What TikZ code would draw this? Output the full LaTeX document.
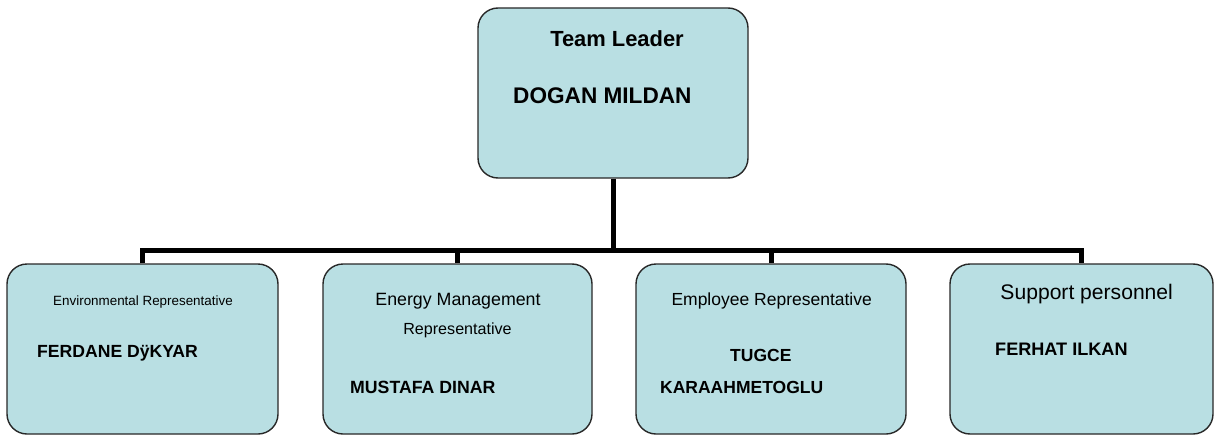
\documentclass[tikz,border=0pt]{standalone}
\usepackage{fontspec}
\setmainfont{Liberation Sans}
\usetikzlibrary{positioning}
\definecolor{boxfill}{RGB}{185,223,227}
\definecolor{boxline}{RGB}{40,40,40}
\tikzset{
    unit/.style ={rectangle, rounded corners=20pt, draw=boxline, line width=1.4pt, fill=boxfill, minimum width=270pt, minimum height=170pt},
    conn/.style ={line width=5pt, black, line join=miter},
    txt/.style = {inner sep=0pt, anchor=base}
}
\begin{document}
\begin{tikzpicture}[x=1pt,y=-1pt]
\useasboundingbox (0,0) rectangle (1215,436);
% boxes
\node [unit] (leader) at (613,93) {};
\node [unit, minimum width=271pt] (env) at (142.5,349) {};
\node [unit, minimum width=269pt] (energy) at (457.5,349) {};
\node [unit] (employee) at (771,349) {};
\node [unit, minimum width=263pt] (support) at (1081.5,349) {};
% connectors
\coordinate (bus) at (0,250);
\draw [conn] (leader.south) -- (leader.south |- bus);
\draw [conn] (env.north) -- (env.north |- bus) -- (support.north |- bus) -- (support.north);
\foreach \b in {energy, employee}
\draw [conn] (\b.north) -- (\b.north |- bus);
% texts
\node [txt, font=\bfseries\fontsize{21.9}{26}\selectfont] (leaderrole) at (617,47) {Team Leader};
\node [txt, anchor=base west, font=\bfseries\fontsize{22.6}{26}\selectfont] (leadername) at (513,103) {DOGAN MILDAN};
\node [txt, font=\fontsize{13.4}{16}\selectfont] (envrole) at (143,305) {Environmental Representative};
\node [txt, anchor=base west, font=\bfseries\fontsize{17.6}{21}\selectfont] (envname) at (37,357) {FERDANE DÿKYAR};
\node [txt, font=\fontsize{17.8}{21}\selectfont] (energyrole) at (458,305) {Energy Management};
\node [txt, font=\fontsize{16.1}{19}\selectfont] (energyrole2) at (457.5,334) {Representative};
\node [txt, anchor=base west, font=\bfseries\fontsize{17.7}{21}\selectfont] (energyname) at (350,393) {MUSTAFA DINAR};
\node [txt, font=\fontsize{17.5}{21}\selectfont] (employeerole) at (771.7,305) {Employee Representative};
\node [txt, anchor=base west, font=\bfseries\fontsize{17.5}{21}\selectfont] (employeename) at (730,361.5) {TUGCE};
\node [txt, anchor=base west, font=\bfseries\fontsize{17.5}{21}\selectfont] (employeename2) at (660,393) {KARAAHMETOGLU};
\node [txt, font=\fontsize{21.1}{25}\selectfont] (supportrole) at (1086.7,299) {Support personnel};
\node [txt, anchor=base west, font=\bfseries\fontsize{18.1}{21}\selectfont] (supportname) at (995,355) {FERHAT ILKAN};
\end{tikzpicture}
\end{document}
